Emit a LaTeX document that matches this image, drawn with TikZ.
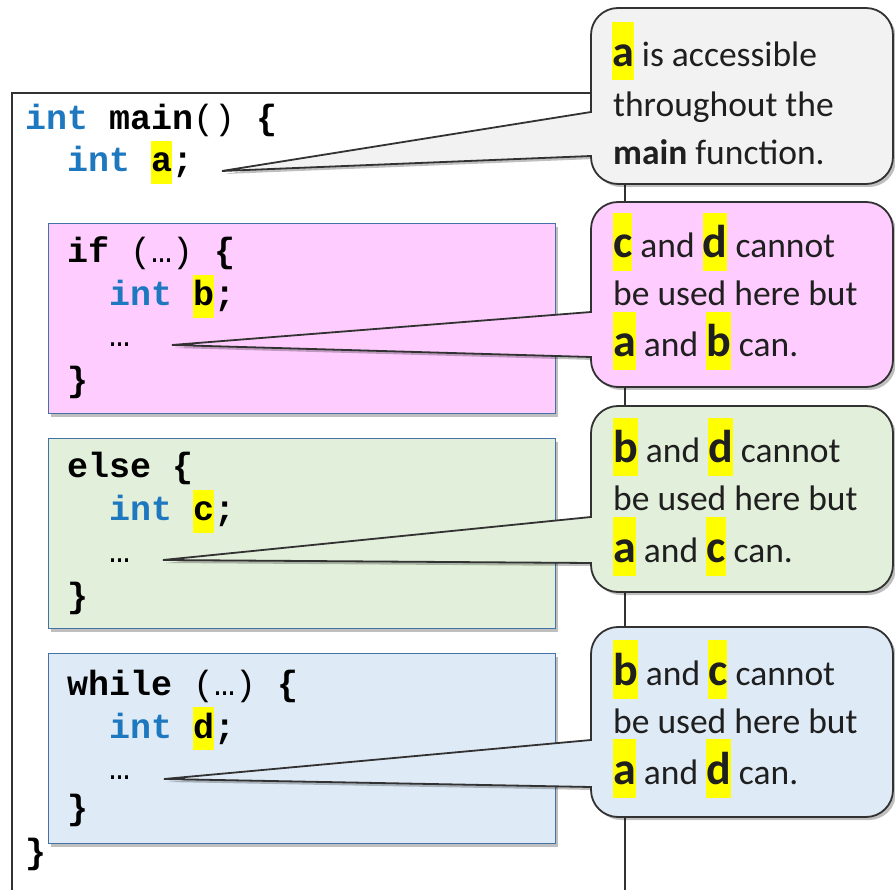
\documentclass[tikz,border=0pt]{standalone}
\usepackage{fontspec}
\setmainfont{Carlito}
\newfontfamily\codefont{Liberation Mono}
\usetikzlibrary{shadows}
\definecolor{kwblue}{RGB}{30,120,192}
\definecolor{calgray}{RGB}{242,242,242}
\definecolor{calpink}{RGB}{255,204,255}
\definecolor{calgreen}{RGB}{226,239,218}
\definecolor{calblue}{RGB}{222,235,247}
\definecolor{boxedge}{RGB}{68,114,165}
\definecolor{hly}{RGB}{255,255,0}
\definecolor{edgegray}{RGB}{50,50,50}
\newcommand\kw[1]{\textcolor{kwblue}{#1}}
\newcommand\chl[1]{{\setlength{\fboxsep}{0pt}\colorbox{hly}{\rule[-12pt]{0pt}{43pt}#1}}}
\newcommand\thl[2][46]{{\setlength{\fboxsep}{0pt}\colorbox{hly}{\rule[-13.5pt]{0pt}{58.5pt}\fontsize{#1}{#1}\selectfont\bfseries #2}}}
\newcommand\callout[6]{%
  \draw[callshape, fill=#1] (#6) -- (591,#4) -- (591,#2+27)
    arc[start angle=180,end angle=270,radius=27] -- (866,#2)
    arc[start angle=270,end angle=360,radius=27] -- (893,#3-27)
    arc[start angle=0,end angle=90,radius=27] -- (618,#3)
    arc[start angle=90,end angle=180,radius=27] -- (591,#5) -- cycle;}
\tikzset{
  codeline/.style={anchor=base west, inner sep=0pt, font=\codefont\bfseries\fontsize{35}{35}\selectfont},
  ctext/.style={anchor=base west, inner sep=0pt, font=\fontsize{35.5}{40}\selectfont, text=black!88},
  codebox/.style={draw=boxedge, line width=1.4pt, anchor=north west, minimum width=507pt, minimum height=190pt, inner sep=0pt,
    drop shadow={shadow xshift=2pt, shadow yshift=-3pt, opacity=0.25, fill=black}},
  callshape/.style={draw=edgegray, line width=1.8pt, line join=miter,
    drop shadow={shadow xshift=3pt, shadow yshift=-3pt, opacity=0.25, fill=black}},
  mainbox/.style={draw=edgegray, line width=2pt}
}
\begin{document}
\begin{tikzpicture}[x=1pt,y=-1pt]
\useasboundingbox[fill=white] (0,0) rectangle (895,890);
% main function frame
\draw[mainbox] (12,890) -- (12,93) -- (625,93) -- (625,890);
% code blocks
\node[codebox, fill=calpink]  (ifblk)    at (48,223) {};
\node[codebox, fill=calgreen] (elseblk)  at (48,438) {};
\node[codebox, fill=calblue]  (whileblk) at (48,653) {};
% code text
\node[codeline] (m1) at (25,130) {\kw{int} main{\mdseries()} \{};
\node[codeline] (m2) at (67,172) {\kw{int} \chl{a};};
\node[codeline] (m3) at (25,863) {\}};
\node[codeline] (p1) at (67,263) {if {\mdseries(…)} \{};
\node[codeline] (p2) at (109,306) {\kw{int} \chl{b};};
\node[codeline] (p3) at (109,347) {{\mdseries…}};
\node[codeline] (p4) at (67,392) {\}};
\node[codeline] (g1) at (67,478) {else \{};
\node[codeline] (g2) at (109,521) {\kw{int} \chl{c};};
\node[codeline] (g3) at (109,562) {{\mdseries…}};
\node[codeline] (g4) at (67,607) {\}};
\node[codeline] (b1) at (67,695) {while {\mdseries(…)} \{};
\node[codeline] (b2) at (109,738) {\kw{int} \chl{d};};
\node[codeline] (b3) at (109,779) {{\mdseries…}};
\node[codeline] (b4) at (67,819) {\}};
% pointer tips
\coordinate (ta) at (222,171);
\coordinate (tb) at (172,345);
\coordinate (tc) at (163,560);
\coordinate (td) at (164,779);
% callouts
\callout{calgray}{8}{184}{112}{156}{ta}
\callout{calpink}{202}{387}{312}{357}{tb}
\callout{calgreen}{406}{592}{517}{563}{tc}
\callout{calblue}{627}{817}{740}{787}{td}
% callout texts
\node[ctext] (ca1) at (612,67)  {\thl[44]{a} is accessible};
\node[ctext] (ca2) at (613,117) {throughout the};
\node[ctext] (ca3) at (613,165) {\textbf{main} function.};
\node[ctext] (cb1) at (613,258) {\thl{c} and \thl{d} cannot};
\node[ctext] (cb2) at (613,306) {be used here but};
\node[ctext] (cb3) at (613,357) {\thl{a} and \thl{b} can.};
\node[ctext] (cc1) at (613,463) {\thl{b} and \thl{d} cannot};
\node[ctext] (cc2) at (613,511) {be used here but};
\node[ctext] (cc3) at (613,562) {\thl{a} and \thl{c} can.};
\node[ctext] (cd1) at (613,685) {\thl{b} and \thl{c} cannot};
\node[ctext] (cd2) at (613,733) {be used here but};
\node[ctext] (cd3) at (613,784) {\thl{a} and \thl{d} can.};
\end{tikzpicture}
\end{document}
